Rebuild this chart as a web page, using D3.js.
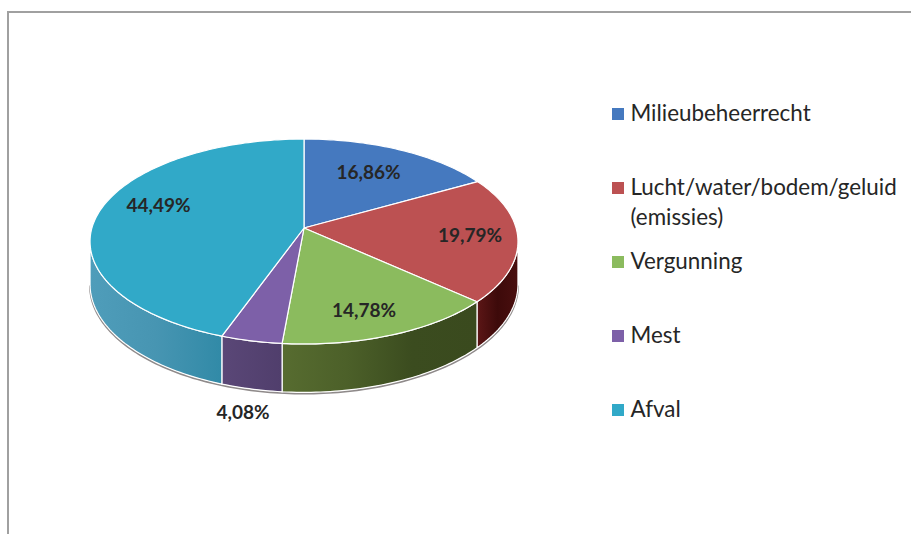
<!DOCTYPE html>
<html>
<head>
<meta charset="utf-8">
<script src="https://d3js.org/d3.v7.min.js"></script>
<style>
  html, body { margin: 0; padding: 0; background: #fff; }
  svg { display: block; }
  text { font-family: Lato, "Open Sans", sans-serif; fill: #262626; }
</style>
</head>
<body>
<div id="my_dataviz"></div>
<script>
// data
var categories = ["Milieubeheerrecht", "Lucht/water/bodem/geluid", "Vergunning", "Mest", "Afval"];
var legendExtra = ["", "(emissies)", "", "", ""];
var values = [16.86, 19.79, 14.78, 4.08, 44.49];
var valueLabels = ["16,86%", "19,79%", "14,78%", "4,08%", "44,49%"];
var colors = ["#4579bf", "#bc5152", "#8bbb5e", "#7d60a8", "#31a9c8"];

// wall shading, left to right
var wallColors = [
  ["#33486f", "#33486f"],
  ["#5c1616", "#3d0a0a", "#4a0f0f"],
  ["#576c30", "#4c6029", "#3b4c1f", "#3a4a1e"],
  ["#5a4777", "#503e6c"],
  ["#4f9dba", "#4795b2", "#318aa7"]
];

var width = 911, height = 534;

// pie geometry: a circle seen in perspective
var hubX = 304, hubY = 228;
var persp = 0.1317, scaleX = 212.1, scaleY = 100.7, depth = 42;

function project(a, r) {
  var u = Math.sin(a) * r, v = -Math.cos(a) * r;
  var w = 1 - persp * v;
  return [hubX + scaleX * u / w, hubY + scaleY * v / w, depth / w];
}

function arcPoints(a0, a1, r) {
  var n = Math.max(2, Math.ceil((a1 - a0) / 0.02));
  return d3.range(n + 1).map(function (i) {
    return project(a0 + (a1 - a0) * i / n, r === undefined ? 1 : r);
  });
}

var line = d3.line().x(function (d) { return d[0]; }).y(function (d) { return d[1]; });

var svg = d3.select("#my_dataviz").append("svg").attr("width", width).attr("height", height);
svg.append("rect").attr("width", width).attr("height", height).attr("fill", "#fff");

// frame, only top and left survive in the picture
svg.append("path")
  .attr("d", "M8," + height + "V12H" + width)
  .attr("fill", "none")
  .attr("stroke", "#a0a0a0")
  .attr("stroke-width", 2);

var pie = d3.pie().sort(null).value(function (d) { return d; });
var arcs = pie(values);

// the walls only show on the near side of the silhouette
var wallStart = Math.acos(-persp), wallEnd = 2 * Math.PI - wallStart;

var defs = svg.append("defs");
var blur = defs.append("filter").attr("id", "soft").attr("x", "-5%").attr("y", "-5%").attr("width", "110%").attr("height", "110%");
blur.append("feGaussianBlur").attr("stdDeviation", 0.45);

// grey shadow line under the pie
var rim = arcPoints(wallStart, wallEnd).map(function (p) { return [p[0], p[1] + p[2] + 1.2]; });
svg.append("path")
  .attr("d", line(rim))
  .attr("fill", "none")
  .attr("stroke", "#8f8a8a")
  .attr("stroke-width", 2)
  .attr("filter", "url(#soft)");

var walls = svg.append("g");
arcs.forEach(function (d, i) {
  var a0 = Math.max(d.startAngle, wallStart), a1 = Math.min(d.endAngle, wallEnd);
  if (a1 <= a0) return;
  var top = arcPoints(a0, a1);
  var bottom = top.map(function (p) { return [p[0], p[1] + p[2]]; }).reverse();
  var x0 = d3.min(top, function (p) { return p[0]; }), x1 = d3.max(top, function (p) { return p[0]; });
  var grad = defs.append("linearGradient")
    .attr("id", "wall" + i)
    .attr("gradientUnits", "userSpaceOnUse")
    .attr("x1", x0).attr("x2", x1).attr("y1", 0).attr("y2", 0);
  wallColors[i].forEach(function (c, j) {
    grad.append("stop").attr("offset", j / (wallColors[i].length - 1)).attr("stop-color", c);
  });
  walls.append("path")
    .attr("d", line(top.concat(bottom)) + "Z")
    .attr("fill", "url(#wall" + i + ")")
    .attr("stroke", "#fff")
    .attr("stroke-width", 1.2)
    .attr("stroke-linejoin", "round");
});

// top face
svg.append("g").selectAll("path")
  .data(arcs)
  .enter()
  .append("path")
  .attr("d", function (d) {
    return line([[hubX, hubY]].concat(arcPoints(d.startAngle, d.endAngle))) + "Z";
  })
  .attr("fill", function (d, i) { return colors[i]; })
  .attr("stroke", "#fff")
  .attr("stroke-width", 1.2)
  .attr("stroke-linejoin", "round");

// data labels, hand placed in the original
var labelAt = [[368.5, 172], [470, 235.5], [364, 310], [243, 412.5], [158.5, 205]];
svg.append("g").selectAll("text")
  .data(valueLabels)
  .enter()
  .append("text")
  .attr("x", function (d, i) { return labelAt[i][0]; })
  .attr("y", function (d, i) { return labelAt[i][1]; })
  .attr("dy", "0.35em")
  .attr("text-anchor", "middle")
  .attr("font-size", 19)
  .attr("font-weight", 700)
  .text(function (d) { return d; });

// legend
var legendBase = [121, 195, 269, 343, 417];
var legend = svg.append("g").selectAll("g")
  .data(categories)
  .enter()
  .append("g")
  .attr("transform", function (d, i) { return "translate(0," + legendBase[i] + ")"; });
legend.append("rect")
  .attr("x", 612).attr("y", -13)
  .attr("width", 12).attr("height", 12)
  .attr("fill", function (d, i) { return colors[i]; });
legend.append("text")
  .attr("x", 630.5)
  .attr("font-size", 22.4)
  .text(function (d) { return d; });
legend.append("text")
  .attr("x", 630.5).attr("y", 30)
  .attr("font-size", 22.4)
  .text(function (d, i) { return legendExtra[i]; });
</script>
</body>
</html>
